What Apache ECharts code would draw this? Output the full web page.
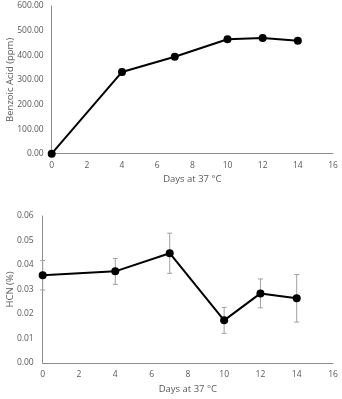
<!DOCTYPE html>
<html>
<head>
<meta charset="utf-8">
<script src="https://cdn.jsdelivr.net/npm/echarts@6/dist/echarts.min.js"></script>
<style>
  html, body { margin: 0; padding: 0; background: #fff; }
  #chart { width: 342px; height: 399px; }
</style>
</head>
<body>
<div id="chart"></div>
<script>
// days of storage
const days = [0, 4, 7, 10, 12, 14];

// benzoic acid (ppm) and its error
const benzoic = [0, 332, 394, 465, 470, 459];
const benzoicErr = [0, 13, 10, 6, 10, 5];

// HCN (%) and its error
const hcn = [0.0358, 0.0374, 0.0448, 0.0174, 0.0284, 0.0264];
const hcnErr = [0.006, 0.0053, 0.0082, 0.0053, 0.0059, 0.0097];

const textColor = '#595959';
const axisColor = '#8c8c8c';
const font = 'Open Sans';

const points = (ys) => days.map((d, i) => [d, ys[i]]);
const bars = (ys, es) => days.map((d, i) => [d, ys[i] - es[i], ys[i] + es[i]]);

function errorBar(params, api) {
  const x = api.value(0);
  const lo = api.coord([x, api.value(1)]);
  const hi = api.coord([x, api.value(2)]);
  const w = 2.5;
  const style = { stroke: '#a0a0a0', lineWidth: 1 };
  return {
    type: 'group',
    children: [
      { type: 'line', shape: { x1: lo[0], y1: lo[1], x2: hi[0], y2: hi[1] }, style },
      { type: 'line', shape: { x1: lo[0] - w, y1: lo[1], x2: lo[0] + w, y2: lo[1] }, style },
      { type: 'line', shape: { x1: hi[0] - w, y1: hi[1], x2: hi[0] + w, y2: hi[1] }, style }
    ]
  };
}

const xAxisBase = {
  type: 'value',
  min: 0,
  max: 16,
  interval: 2,
  name: 'Days at 37 \u00B0C',
  nameLocation: 'middle',
  nameGap: 21,
  nameMoveOverlap: false,
  nameTextStyle: { color: textColor, fontFamily: font, fontSize: 9.5 },
  axisLine: { show: true, lineStyle: { color: axisColor, width: 1 } },
  axisTick: { show: false },
  splitLine: { show: false },
  axisLabel: { color: textColor, fontFamily: font, fontSize: 8.5, margin: 7 }
};

const yAxisBase = {
  type: 'value',
  nameLocation: 'middle',
  nameMoveOverlap: false,
  nameTextStyle: { color: textColor, fontFamily: font, fontSize: 9.5 },
  axisLine: { show: true, lineStyle: { color: axisColor, width: 1 } },
  axisTick: { show: false },
  splitLine: { show: false }
};

const chart = echarts.init(document.getElementById('chart'));
chart.setOption({
  animation: false,
  grid: [
    { left: 51.7, right: 9, top: 6, height: 147.7, outerBoundsMode: 'none', containLabel: false },
    { left: 42.7, right: 9, top: 216, height: 147, outerBoundsMode: 'none', containLabel: false }
  ],
  xAxis: [
    Object.assign({ gridIndex: 0 }, xAxisBase),
    Object.assign({ gridIndex: 1 }, xAxisBase)
  ],
  yAxis: [
    Object.assign({}, yAxisBase, {
      gridIndex: 0, min: 0, max: 600, interval: 100,
      name: 'Benzoic Acid (ppm)', nameGap: 36,
      axisLabel: { color: textColor, fontFamily: font, fontSize: 8.5, margin: 8,
        formatter: (v) => v.toFixed(2) }
    }),
    Object.assign({}, yAxisBase, {
      gridIndex: 1, min: 0, max: 0.06, interval: 0.01,
      name: 'HCN (%)', nameGap: 27,
      axisLabel: { color: textColor, fontFamily: font, fontSize: 8.5, margin: 9,
        formatter: (v) => v.toFixed(2) }
    })
  ],
  series: [
    {
      type: 'custom', xAxisIndex: 0, yAxisIndex: 0,
      renderItem: errorBar, data: bars(benzoic, benzoicErr), z: 1
    },
    {
      type: 'line', xAxisIndex: 0, yAxisIndex: 0,
      data: points(benzoic),
      symbol: 'circle', symbolSize: 8,
      lineStyle: { color: '#000', width: 2 },
      itemStyle: { color: '#000' }, z: 2
    },
    {
      type: 'custom', xAxisIndex: 1, yAxisIndex: 1,
      renderItem: errorBar, data: bars(hcn, hcnErr), z: 1
    },
    {
      type: 'line', xAxisIndex: 1, yAxisIndex: 1,
      data: points(hcn),
      symbol: 'circle', symbolSize: 8,
      lineStyle: { color: '#000', width: 2 },
      itemStyle: { color: '#000' }, z: 2
    }
  ]
});
</script>
</body>
</html>
